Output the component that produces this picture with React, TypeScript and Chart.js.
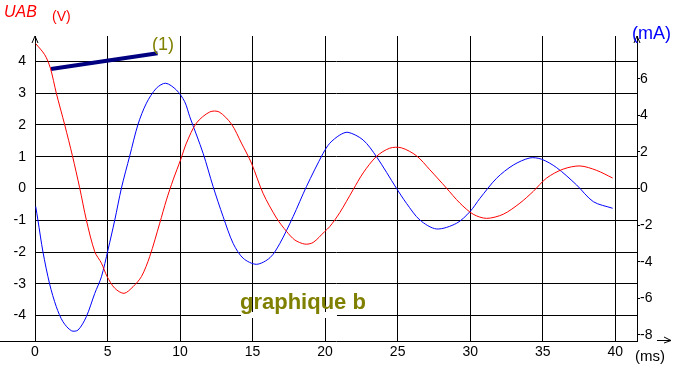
import React, { useEffect, useRef } from 'react';
import { Chart, registerables } from 'chart.js';
Chart.register(...registerables);

// UAB (V) vs time (ms)
const uT = [0.05, 0.67, 1.06, 1.47, 2.05, 2.58, 3.08, 3.54, 4.12, 4.58, 4.97, 5.5, 6.14, 6.76, 7.34, 7.91, 8.6, 9.06, 9.52, 10.05, 10.44, 11.13, 12.05, 12.69, 13.54, 14.23, 14.92, 15.72, 16.65, 17.34, 17.91, 18.6, 19.17, 19.98, 20.32, 21.01, 21.93, 22.62, 23.54, 24.46, 25.26, 26.3, 27.22, 28.37, 29.29, 30.21, 31.13, 32.28, 33.43, 34.35, 35.27, 36.41, 37.57, 38.72, 39.82];
const uV = [4.56, 4.21, 3.79, 3.0, 2.0, 1.03, 0.02, -0.99, -1.99, -2.35, -2.77, -3.14, -3.3, -3.09, -2.77, -2.14, -1.09, -0.36, 0.27, 0.92, 1.43, 2.06, 2.41, 2.41, 2.03, 1.43, 0.8, -0.15, -0.93, -1.35, -1.62, -1.75, -1.7, -1.35, -1.2, -0.76, -0.04, 0.49, 1.01, 1.27, 1.28, 1.03, 0.59, 0.01, -0.46, -0.81, -0.94, -0.81, -0.46, -0.09, 0.33, 0.61, 0.71, 0.57, 0.33];

// current (mA) vs time (ms)
const iT = [0.05, 0.2, 0.55, 1.01, 1.47, 1.93, 2.51, 2.97, 3.54, 4.12, 4.58, 5.03, 5.5, 5.96, 6.53, 7.1, 7.68, 8.37, 9.01, 9.75, 10.32, 10.67, 11.59, 12.28, 12.97, 13.66, 14.35, 15.27, 16.2, 16.88, 17.79, 18.71, 19.86, 20.32, 21.01, 21.58, 22.62, 23.54, 24.92, 25.61, 26.53, 27.68, 29.06, 29.98, 30.67, 31.82, 32.97, 34.12, 34.92, 35.96, 37.34, 38.49, 39.82];
const iV = [-0.99, -1.72, -3.47, -5.22, -6.46, -7.28, -7.77, -7.73, -7.0, -5.73, -4.82, -3.36, -1.72, 0.03, 1.78, 3.5, 4.66, 5.48, 5.75, 5.38, 4.74, 3.92, 1.92, 0.1, -1.54, -3.0, -3.81, -4.14, -3.78, -3.0, -1.54, 0.1, 1.92, 2.47, 2.92, 3.07, 2.65, 1.74, 0.01, -0.81, -1.72, -2.21, -1.9, -1.27, -0.54, 0.56, 1.28, 1.67, 1.6, 1.14, 0.19, -0.72, -1.08];

// marker line "(1)"
const markT = [1.1, 8.45];
const markV = [3.76, 4.26];

const xTicks = [0, 5, 10, 15, 20, 25, 30, 35, 40];
const yTicks = [-4, -3, -2, -1, 0, 1, 2, 3, 4];
const y1Ticks = [-8, -6, -4, -2, 0, 2, 4, 6];

const FONT = 'Liberation Sans, Arial, sans-serif';

export default function App() {
  const ref = useRef<HTMLCanvasElement>(null);
  useEffect(() => {
    document.body.style.margin = '0';
    const canvas = ref.current!;
    const decor = {
      id: 'decor',
      afterDraw(chart: any) {
        const c = chart.ctx;
        const a = chart.chartArea;
        c.save();
        c.strokeStyle = '#000';
        c.lineWidth = 1;
        // x axis extension to the left and arrow right
        c.beginPath();
        c.moveTo(0, a.bottom + 0.5);
        c.lineTo(a.left, a.bottom + 0.5);
        c.stroke();
        c.beginPath();
        c.moveTo(657, a.bottom - 0.5);
        c.lineTo(671, a.bottom - 0.5);
        c.moveTo(664, a.bottom - 4);
        c.lineTo(671, a.bottom - 0.5);
        c.lineTo(664, a.bottom + 2);
        c.stroke();
        // axis arrows at top
        for (const x of [a.left, a.right]) {
          c.beginPath();
          c.moveTo(x - 3, a.top + 7);
          c.lineTo(x, a.top);
          c.lineTo(x + 3, a.top + 7);
          c.stroke();
        }
        // texts
        c.textBaseline = 'alphabetic';
        c.textAlign = 'left';
        c.fillStyle = '#ff0000';
        c.font = `italic 16px ${FONT}`;
        c.fillText('UAB', 4, 17);
        c.font = `14px ${FONT}`;
        c.fillText('(V)', 52, 21);
        c.fillStyle = '#0000ff';
        c.font = `18px ${FONT}`;
        c.fillText('(mA)', 632, 39);
        c.fillStyle = '#000';
        c.font = `15px ${FONT}`;
        c.fillText('(ms)', 635, 361);
        c.fillStyle = '#808000';
        c.font = `18px ${FONT}`;
        c.fillText('(1)', 152, 50);
        c.fillStyle = '#fff';
        c.fillRect(241, 312, 96, 6);
        c.fillStyle = '#808000';
        c.font = `bold 22px ${FONT}`;
        c.fillText('graphique b', 240, 309);
        c.restore();
      },
    };
    const tickFont = { family: FONT, size: 14 };
    const chart = new Chart(canvas, {
      type: 'line',
      data: {
        datasets: [
          {
            label: 'UAB',
            data: uT.map((t, k) => ({ x: t, y: uV[k] })),
            borderColor: '#ff0000',
            borderWidth: 1,
            pointRadius: 0,
            tension: 0.3,
            yAxisID: 'y',
          },
          {
            label: 'i',
            data: iT.map((t, k) => ({ x: t, y: iV[k] })),
            borderColor: '#0000ff',
            borderWidth: 1,
            pointRadius: 0,
            tension: 0.3,
            yAxisID: 'y1',
          },
          {
            label: '(1)',
            data: markT.map((t, k) => ({ x: t, y: markV[k] })),
            borderColor: '#000080',
            borderWidth: 4,
            pointRadius: 0,
            yAxisID: 'y',
          },
        ],
      },
      options: {
        animation: false,
        responsive: false,
        layout: { padding: { top: 36, left: 0, right: 0, bottom: 0 } },
        plugins: { legend: { display: false }, tooltip: { enabled: false } },
        scales: {
          x: {
            type: 'linear',
            min: 0,
            max: 41.5,
            afterBuildTicks: (s: any) => { s.ticks = xTicks.map((v) => ({ value: v })); },
            afterFit: (s: any) => { s.height = 28; },
            grid: { color: '#000', lineWidth: 1, drawTicks: false },
            border: { color: '#000', width: 1 },
            ticks: { color: '#000', font: tickFont, padding: 3, maxRotation: 0, autoSkip: false },
          },
          y: {
            position: 'left',
            min: -4.8,
            max: 4.8,
            afterBuildTicks: (s: any) => { s.ticks = yTicks.map((v) => ({ value: v })); },
            afterFit: (s: any) => { s.width = 35; },
            grid: { color: '#000', lineWidth: 1, drawTicks: false },
            border: { color: '#000', width: 1 },
            ticks: { color: '#000', font: tickFont, padding: 9, autoSkip: false },
          },
          y1: {
            position: 'right',
            min: -8.33,
            max: 8.33,
            afterBuildTicks: (s: any) => { s.ticks = y1Ticks.map((v) => ({ value: v })); },
            afterFit: (s: any) => { s.width = 48; },
            grid: { drawOnChartArea: false, color: '#000', tickLength: 3 },
            border: { color: '#000', width: 1 },
            ticks: { color: '#000', font: tickFont, padding: 0, autoSkip: false },
          },
        },
      },
      plugins: [decor],
    } as any);
    return () => chart.destroy();
  }, []);
  return (
    <div style={{ width: 685, height: 369, background: '#fff' }}>
      <canvas ref={ref} width={685} height={369} style={{ display: 'block' }} />
    </div>
  );
}
